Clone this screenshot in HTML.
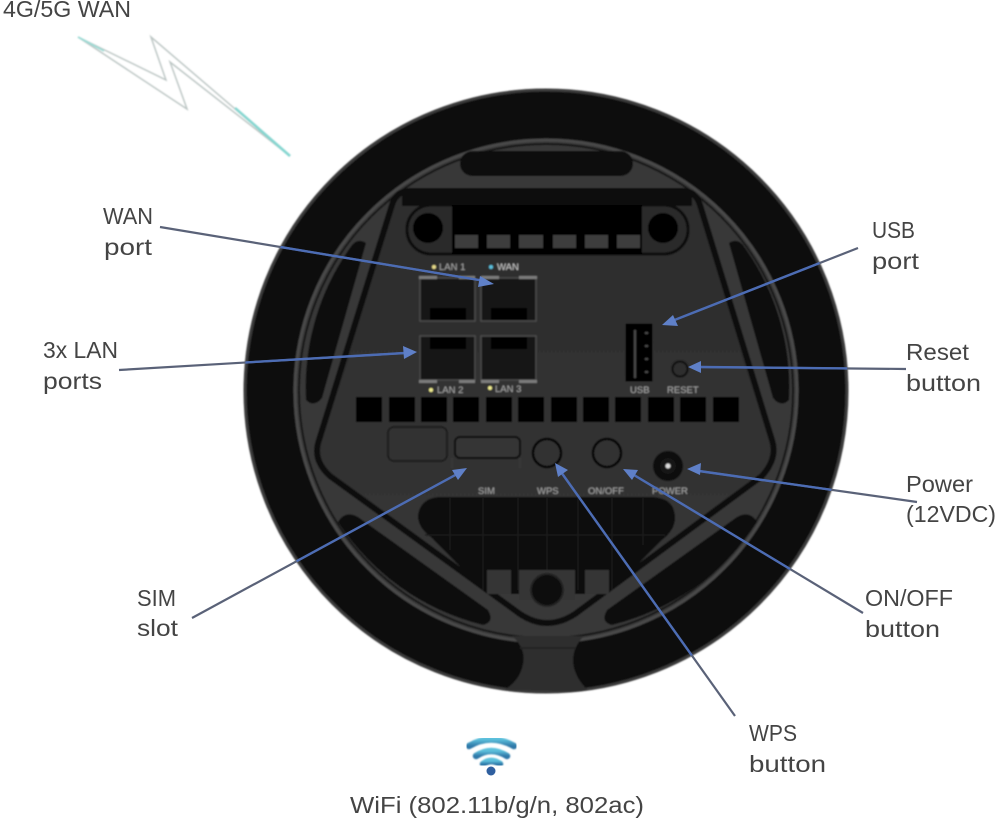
<!DOCTYPE html>
<html><head><meta charset="utf-8"><style>
html,body{margin:0;padding:0;background:#fff}
svg{display:block}
.t{font-family:"Liberation Sans",sans-serif;font-size:23px;fill:#444}
.s{font-family:"Liberation Sans",sans-serif;font-size:9.5px;fill:#a8a8a8}
</style></head><body>
<svg width="1000" height="825" viewBox="0 0 1000 825" xmlns="http://www.w3.org/2000/svg">
<defs>
<linearGradient id="wf" x1="0" y1="0" x2="0" y2="1"><stop offset="0" stop-color="#5cc0dc"/><stop offset="1" stop-color="#2f78a8"/></linearGradient>
<linearGradient id="pn" x1="0" y1="0" x2="0" y2="1"><stop offset="0" stop-color="#2d2d2d"/><stop offset=".5" stop-color="#303030"/><stop offset="1" stop-color="#383838"/></linearGradient>
<clipPath id="dc"><circle cx="546" cy="391" r="302"/></clipPath>
<filter id="b" x="-5%" y="-5%" width="110%" height="110%"><feGaussianBlur stdDeviation="0.7"/></filter>
</defs>
<!-- lightning -->
<g filter="url(#b)">
<polygon points="78,37 166,80 151,37 290,156 170,62 187,109" fill="#fff" stroke="#bcc6c4" stroke-width="1.5"/>
<polyline points="235,108 290,156" fill="none" stroke="#85d6d0" stroke-width="2.6"/>
<polyline points="78,37 104,51" fill="none" stroke="#9adcd6" stroke-width="1.8"/>
</g>
<g filter="url(#b)">
<!-- outer disc -->
<circle cx="546" cy="391" r="301" fill="#0a0a0a" stroke="#3a3a3a" stroke-width="3"/>
<!-- body -->
<circle cx="546" cy="391" r="251" fill="#383838" stroke="#4a4a4a" stroke-width="3"/>
<circle cx="546" cy="391" r="247" fill="none" stroke="#161616" stroke-width="2"/>
<!-- bottom bridge -->
<g clip-path="url(#dc)">
<path d="M512,636 Q528,650 522,668 Q518,682 504,690 L590,692 Q578,682 574,668 Q570,650 584,636Z" fill="#2d2d2d"/>
<line x1="520" y1="648" x2="575" y2="648" stroke="#222" stroke-width="2"/>
</g>
<!-- top slot -->
<rect x="460" y="151" width="173" height="25" rx="12.5" fill="#0c0c0c"/>
<!-- side slots -->
<path d="M352,245 Q358,238 366,243 L322,398 Q314,408 306,400 A241,241 0 0 1 352,245Z" fill="#0a0a0a"/>
<path d="M743,245 Q737,238 729,243 L773,398 Q781,408 789,400 A241,241 0 0 0 743,245Z" fill="#0a0a0a"/>
<!-- bottom slots -->
<path d="M338,522 Q345,510 358,517 L488,610 Q495,622 483,625 A241,241 0 0 1 338,522Z" fill="#0a0a0a"/>
<path d="M757,522 Q750,510 737,517 L607,610 Q600,622 612,625 A241,241 0 0 0 757,522Z" fill="#0a0a0a"/>
<!-- pentagon panel -->
<path d="M410,191 H682 Q696,191 700,205 L772,440 Q778,458 762,476 L575,614 Q547,632 520,614 L330,476 Q312,460 319,440 L392,205 Q396,191 410,191Z" fill="url(#pn)" stroke="#0d0d0d" stroke-width="6"/>
<!-- top vent -->
<rect x="402" y="190" width="290" height="16" fill="#0c0c0c"/>
<rect x="407" y="205" width="281" height="49" rx="24" fill="#292929" stroke="#0a0a0a" stroke-width="3"/>
<rect x="452" y="205" width="190" height="49" fill="#050505"/>
<circle cx="428" cy="228" r="15" fill="#050505"/><circle cx="663" cy="228" r="15" fill="#050505"/>
<g fill="#3c3c3c">
<rect x="455" y="235" width="23" height="13"/><rect x="487" y="235" width="23" height="13"/><rect x="519" y="235" width="24" height="13"/><rect x="553" y="235" width="23" height="13"/><rect x="585" y="235" width="23" height="13"/><rect x="617" y="235" width="23" height="13"/>
</g>
<!-- ports -->
<g fill="#121212" stroke="#4c4c4c" stroke-width="1.5">
<rect x="420" y="278" width="55" height="43"/><rect x="481" y="278" width="55" height="43"/>
<rect x="420" y="336" width="55" height="44"/><rect x="481" y="336" width="55" height="44"/>
</g>
<g fill="#050505">
<rect x="430" y="308" width="36" height="12"/><rect x="491" y="308" width="36" height="12"/>
<rect x="430" y="337" width="36" height="12"/><rect x="491" y="337" width="36" height="12"/>
</g>
<g fill="#7c7c7c">
<rect x="419" y="276" width="18" height="3"/><rect x="459" y="276" width="16" height="3"/><rect x="481" y="276" width="18" height="3"/><rect x="519" y="276" width="18" height="3"/>
<rect x="419" y="380" width="18" height="3"/><rect x="459" y="380" width="16" height="3"/><rect x="481" y="380" width="18" height="3"/><rect x="519" y="380" width="18" height="3"/>
</g>
<circle cx="434" cy="267" r="2" fill="#e6d98a"/><text class="s" x="439" y="270">LAN 1</text>
<circle cx="491" cy="267" r="2" fill="#5cc0dc"/><text class="s" x="497" y="270" style="fill:#ccc">WAN</text>
<circle cx="431" cy="390" r="2" fill="#f0ec90"/><text class="s" x="437" y="393">LAN 2</text>
<circle cx="490" cy="388" r="2" fill="#f0ec90"/><text class="s" x="495" y="392">LAN 3</text>
<!-- USB / reset -->
<rect x="625" y="323" width="28" height="59" fill="#060606" stroke="#333"/>
<g fill="#4a4a4a"><rect x="634" y="330" width="2" height="48"/><rect x="645" y="332" width="3" height="2"/><rect x="645" y="345" width="3" height="2"/><rect x="645" y="358" width="3" height="2"/><rect x="645" y="371" width="3" height="2"/></g>
<circle cx="680" cy="369" r="7.5" fill="#2e2e2e" stroke="#0a0a0a" stroke-width="2"/>
<text class="s" x="630" y="393">USB</text><text class="s" x="667" y="393">RESET</text>
<!-- vent row -->
<g fill="#050505">
<rect x="356" y="397" width="26" height="25"/><rect x="389" y="397" width="26" height="25"/><rect x="421" y="397" width="26" height="25"/><rect x="453" y="397" width="26" height="25"/><rect x="486" y="397" width="26" height="25"/><rect x="518" y="397" width="26" height="25"/><rect x="551" y="397" width="26" height="25"/><rect x="583" y="397" width="26" height="25"/><rect x="615" y="397" width="26" height="25"/><rect x="648" y="397" width="26" height="25"/><rect x="680" y="397" width="26" height="25"/><rect x="713" y="397" width="26" height="25"/>
</g>
<!-- sim etc -->
<rect x="388" y="427" width="59" height="34" rx="6" fill="#303030" stroke="#141414" stroke-width="1.5"/>
<rect x="455" y="437" width="65" height="21" rx="5" fill="#363636" stroke="#0c0c0c" stroke-width="2"/>
<path d="M452,458 V468 M520,458 V468" fill="none" stroke="#3c3c3c"/>
<circle cx="547" cy="453" r="14" fill="#303030" stroke="#060606" stroke-width="2.5"/>
<circle cx="607" cy="453" r="14" fill="#303030" stroke="#060606" stroke-width="2.5"/>
<circle cx="668" cy="466" r="15" fill="#090909"/><circle cx="668" cy="466" r="8" fill="#151515"/><circle cx="668" cy="466" r="2.5" fill="#ddd"/>
<text class="s" x="478" y="494">SIM</text><text class="s" x="537" y="494">WPS</text><text class="s" x="588" y="494">ON/OFF</text><text class="s" x="652" y="494">POWER</text>
<!-- lower vent -->
<path d="M440,497 H652 Q675,498 675,518 Q675,530 662,540 L608,594 H487 L432,538 Q418,528 418,516 Q420,498 440,497Z" fill="#070707"/>
<g stroke="#1a1a1a" stroke-width="1.5"><line x1="450" y1="498" x2="450" y2="550"/><line x1="483" y1="498" x2="483" y2="590"/><line x1="518" y1="498" x2="518" y2="590"/><line x1="547" y1="498" x2="547" y2="570"/><line x1="578" y1="498" x2="578" y2="590"/><line x1="612" y1="498" x2="612" y2="590"/><line x1="643" y1="498" x2="643" y2="545"/><line x1="425" y1="535" x2="665" y2="535"/></g>
<rect x="487" y="570" width="24" height="24" fill="#363636"/><rect x="519" y="570" width="56" height="30" fill="#363636"/><rect x="585" y="570" width="24" height="24" fill="#363636"/>
<circle cx="547" cy="590" r="16" fill="#0a0a0a" stroke="#242424" stroke-width="2"/>
</g>
<!-- arrows -->
<g stroke="#5a6278" stroke-width="2.2" fill="none">
<line x1="160" y1="227" x2="485" y2="281"/>
<line x1="119" y1="370" x2="405" y2="353"/>
<line x1="858" y1="248" x2="672" y2="321"/>
<line x1="906" y1="369" x2="699" y2="367"/>
<line x1="917" y1="502" x2="699" y2="471"/>
<line x1="863" y1="613" x2="634" y2="475"/>
<line x1="735" y1="716" x2="561" y2="472"/>
<line x1="192" y1="618" x2="459" y2="473"/>
</g>
<g stroke="#4c6cb4" stroke-width="2.4" fill="none" clip-path="url(#dc)">
<line x1="160" y1="227" x2="485" y2="281"/>
<line x1="119" y1="370" x2="405" y2="353"/>
<line x1="858" y1="248" x2="672" y2="321"/>
<line x1="906" y1="369" x2="699" y2="367"/>
<line x1="917" y1="502" x2="699" y2="471"/>
<line x1="863" y1="613" x2="634" y2="475"/>
<line x1="735" y1="716" x2="561" y2="472"/>
<line x1="192" y1="618" x2="459" y2="473"/>
</g>
<g fill="#5f80c8">
<polygon points="494,284 480,276 478,287"/>
<polygon points="417,352 403,346 404,359"/>
<polygon points="662,325 673,315 678,326"/>
<polygon points="688,367 701,361 701,373"/>
<polygon points="687,469 701,463 700,475"/>
<polygon points="623,469 638,470 632,480"/>
<polygon points="555,463 568,470 558,477"/>
<polygon points="467,468 458,480 452,470"/>
</g>
<!-- wifi -->
<g fill="none" stroke="url(#wf)" stroke-linecap="round" stroke-width="6.5" filter="url(#b)">
<path d="M469,746 Q491,733 514,746"/>
<path d="M476,756 Q491,746 507,756"/>
<path d="M483,764 Q491,758 500,764"/>
</g>
<circle cx="491" cy="771" r="4.5" fill="#2f5f9f"/>
<!-- labels -->
<text class="t" x="3" y="17" textLength="128" lengthAdjust="spacingAndGlyphs">4G/5G WAN</text>
<text class="t" x="103" y="224" textLength="50" lengthAdjust="spacingAndGlyphs">WAN</text><text class="t" x="104" y="255" textLength="48" lengthAdjust="spacingAndGlyphs">port</text>
<text class="t" x="43" y="358" textLength="75" lengthAdjust="spacingAndGlyphs">3x LAN</text><text class="t" x="43" y="389" textLength="59" lengthAdjust="spacingAndGlyphs">ports</text>
<text class="t" x="137" y="606" textLength="39" lengthAdjust="spacingAndGlyphs">SIM</text><text class="t" x="137" y="636" textLength="41" lengthAdjust="spacingAndGlyphs">slot</text>
<text class="t" x="872" y="238" textLength="43" lengthAdjust="spacingAndGlyphs">USB</text><text class="t" x="872" y="269" textLength="47" lengthAdjust="spacingAndGlyphs">port</text>
<text class="t" x="906" y="360" textLength="63" lengthAdjust="spacingAndGlyphs">Reset</text><text class="t" x="906" y="391" textLength="75" lengthAdjust="spacingAndGlyphs">button</text>
<text class="t" x="906" y="492" textLength="67" lengthAdjust="spacingAndGlyphs">Power</text><text class="t" x="906" y="522" textLength="90" lengthAdjust="spacingAndGlyphs">(12VDC)</text>
<text class="t" x="865" y="606" textLength="88" lengthAdjust="spacingAndGlyphs">ON/OFF</text><text class="t" x="865" y="637" textLength="75" lengthAdjust="spacingAndGlyphs">button</text>
<text class="t" x="749" y="741" textLength="48" lengthAdjust="spacingAndGlyphs">WPS</text><text class="t" x="749" y="772" textLength="77" lengthAdjust="spacingAndGlyphs">button</text>
<text class="t" x="350" y="813" textLength="294" lengthAdjust="spacingAndGlyphs">WiFi (802.11b/g/n, 802ac)</text>
</svg>
</body></html>
